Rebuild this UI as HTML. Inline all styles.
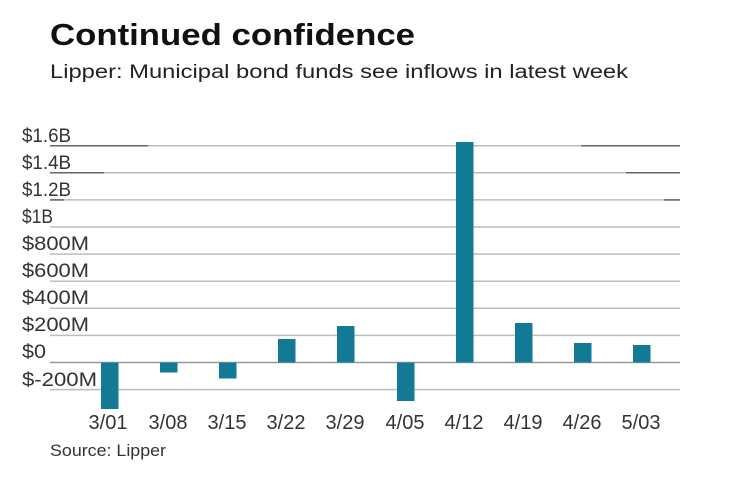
<!DOCTYPE html>
<html><head><meta charset="utf-8"><style>
html,body{margin:0;padding:0;background:#fff;}
svg{display:block;font-family:"Liberation Sans",sans-serif;}
</style></head><body>
<svg width="740" height="482" viewBox="0 0 740 482" xmlns="http://www.w3.org/2000/svg">
<text x="50" y="45" font-size="31" font-weight="bold" fill="#111" textLength="365" lengthAdjust="spacingAndGlyphs">Continued confidence</text>
<text x="50" y="78" font-size="19" fill="#222" textLength="578" lengthAdjust="spacingAndGlyphs">Lipper: Municipal bond funds see inflows in latest week</text>
<g stroke="#bdbdbd" stroke-width="1.5">
<line x1="50" x2="680" y1="145.7" y2="145.7"/>
<line x1="50" x2="680" y1="172.8" y2="172.8"/>
<line x1="50" x2="680" y1="199.9" y2="199.9"/>
<line x1="50" x2="680" y1="227" y2="227"/>
<line x1="50" x2="680" y1="254.1" y2="254.1"/>
<line x1="50" x2="680" y1="281.2" y2="281.2"/>
<line x1="50" x2="680" y1="308.3" y2="308.3"/>
<line x1="50" x2="680" y1="335.4" y2="335.4"/>
<line x1="50" x2="680" y1="389.6" y2="389.6"/>
</g>
<g stroke="#666" stroke-width="1.5">
<line x1="50" x2="148" y1="145.7" y2="145.7"/>
<line x1="50" x2="104" y1="172.8" y2="172.8"/>
<line x1="50" x2="64" y1="199.9" y2="199.9"/>
<line x1="581" x2="680" y1="145.7" y2="145.7"/>
<line x1="626" x2="680" y1="172.8" y2="172.8"/>
<line x1="664" x2="680" y1="199.9" y2="199.9"/>
</g>
<line x1="50" x2="680" y1="362.5" y2="362.5" stroke="#999" stroke-width="1.5"/>
<g fill="#333" font-size="19">
<text x="22" y="142" textLength="49" lengthAdjust="spacingAndGlyphs">$1.6B</text>
<text x="22" y="169" textLength="49" lengthAdjust="spacingAndGlyphs">$1.4B</text>
<text x="22" y="196" textLength="49" lengthAdjust="spacingAndGlyphs">$1.2B</text>
<text x="22" y="223" textLength="31" lengthAdjust="spacingAndGlyphs">$1B</text>
<text x="22" y="250" textLength="67" lengthAdjust="spacingAndGlyphs">$800M</text>
<text x="22" y="277" textLength="67" lengthAdjust="spacingAndGlyphs">$600M</text>
<text x="22" y="304" textLength="67" lengthAdjust="spacingAndGlyphs">$400M</text>
<text x="22" y="331" textLength="67" lengthAdjust="spacingAndGlyphs">$200M</text>
<text x="22" y="358" textLength="24" lengthAdjust="spacingAndGlyphs">$0</text>
<text x="22" y="386" textLength="75" lengthAdjust="spacingAndGlyphs">$-200M</text>
</g>
<g fill="#137a96">
<rect x="101" y="362.5" width="17.5" height="46.5"/>
<rect x="160" y="362.5" width="17.5" height="10"/>
<rect x="219" y="362.5" width="17.5" height="16"/>
<rect x="278" y="339" width="17.5" height="23.5"/>
<rect x="337" y="326" width="17.5" height="36.5"/>
<rect x="397" y="362.5" width="17.5" height="38.5"/>
<rect x="456" y="142" width="17.5" height="220.5"/>
<rect x="515" y="323" width="17.5" height="39.5"/>
<rect x="574" y="343" width="17.5" height="19.5"/>
<rect x="633" y="345" width="17.5" height="17.5"/>
</g>
<g fill="#333" font-size="20" text-anchor="middle">
<text x="108" y="429">3/01</text>
<text x="168" y="429">3/08</text>
<text x="227" y="429">3/15</text>
<text x="286" y="429">3/22</text>
<text x="345" y="429">3/29</text>
<text x="405" y="429">4/05</text>
<text x="464" y="429">4/12</text>
<text x="523" y="429">4/19</text>
<text x="582" y="429">4/26</text>
<text x="641" y="429">5/03</text>
</g>
<text x="50" y="456" font-size="17" fill="#333" textLength="116" lengthAdjust="spacingAndGlyphs">Source: Lipper</text>
</svg>
</body></html>
